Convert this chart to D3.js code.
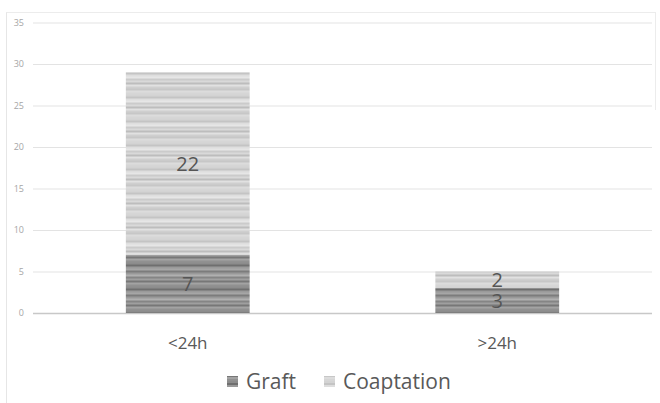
<!DOCTYPE html>
<html>
<head>
<meta charset="utf-8">
<script src="https://cdn.jsdelivr.net/npm/d3@7"></script>
<style>
  body { margin: 0; background: #fff; }
  text { font-family: "Open Sans", "Noto Sans", sans-serif; }
</style>
</head>
<body>
<div id="chart"></div>
<script>
// data
const categories = ['<24h', '>24h'];
const seriesNames = ['Graft', 'Coaptation'];
const graftValues = [7, 3];
const coaptationValues = [22, 2];
const yTicks = [0, 5, 10, 15, 20, 25, 30, 35];

// stripe shades for the textured fills
const graftStripes = ['#8c8c8c', '#6f6f6f', '#9a9a9a', '#a6a6a6', '#7c7c7c', '#999999', '#b0b0b0', '#858585', '#9f9f9f', '#777777', '#a3a3a3', '#919191'];
const coapStripes = ['#d3d3d3', '#c4c4c4', '#dedede', '#e6e6e6', '#cbcbcb', '#d9d9d9', '#bdbdbd', '#e1e1e1', '#cfcfcf', '#c7c7c7', '#dcdcdc', '#d6d6d6'];

const width = 660;
const height = 403;
const margin = {top: 22.5, right: 8, bottom: 90, left: 33};
const innerWidth = width - margin.left - margin.right;
const innerHeight = 313 - margin.top;

const svg = d3.select('#chart').append('svg')
  .attr('width', width)
  .attr('height', height);

// stripe patterns
const defs = svg.append('defs');
function makePattern(id, shades) {
  const p = defs.append('pattern')
    .attr('id', id)
    .attr('patternUnits', 'userSpaceOnUse')
    .attr('width', 8)
    .attr('height', shades.length * 2);
  shades.forEach((c, i) => {
    p.append('rect').attr('x', 0).attr('y', i * 2).attr('width', 8).attr('height', 2).attr('fill', c);
  });
}
makePattern('graftPat', graftStripes);
makePattern('coapPat', coapStripes);
const fills = ['url(#graftPat)', 'url(#coapPat)'];

// chart frame
svg.append('line').attr('x1', 6.5).attr('x2', 6.5).attr('y1', 12).attr('y2', height).attr('stroke', '#e6e6e6');
svg.append('line').attr('x1', 6.5).attr('x2', 655.5).attr('y1', 12.5).attr('y2', 12.5).attr('stroke', '#ececec');
svg.append('line').attr('x1', 655.5).attr('x2', 655.5).attr('y1', 12).attr('y2', 110).attr('stroke', '#ececec');

const g = svg.append('g').attr('transform', `translate(${margin.left},${margin.top})`);

const xScale = d3.scaleBand()
  .domain(categories)
  .range([0, innerWidth])
  .paddingInner(0.6)
  .paddingOuter(0.3);

const yScale = d3.scaleLinear()
  .domain([0, 35])
  .range([innerHeight, 0]);

// y axis with gridlines
const yAxis = g.append('g')
  .call(d3.axisLeft(yScale).tickValues(yTicks).tickSize(-innerWidth).tickPadding(9))
  .call(a => a.select('.domain').remove())
  .call(a => a.selectAll('.tick line').attr('stroke', '#e3e3e3'))
  .call(a => a.selectAll('.tick text').attr('fill', '#a6a6a6').style('font-size', '9px'));
yAxis.selectAll('.tick').filter(d => d === 0).select('line').attr('stroke', '#c8c8c8').attr('stroke-width', 1.5);

// stacked data
const table = categories.map((c, i) => ({cat: c, Graft: graftValues[i], Coaptation: coaptationValues[i]}));
const stacked = d3.stack().keys(seriesNames)(table);

const layers = g.selectAll('.layer')
  .data(stacked)
  .enter().append('g')
  .attr('class', 'layer')
  .attr('fill', (d, i) => fills[i]);

layers.selectAll('rect')
  .data(d => d)
  .enter().append('rect')
  .attr('x', d => xScale(d.data.cat))
  .attr('y', d => yScale(d[1]))
  .attr('width', xScale.bandwidth())
  .attr('height', d => yScale(d[0]) - yScale(d[1]));

// value labels
layers.selectAll('text')
  .data(d => d)
  .enter().append('text')
  .attr('x', d => xScale(d.data.cat) + xScale.bandwidth() / 2)
  .attr('y', d => (yScale(d[0]) + yScale(d[1])) / 2)
  .attr('dy', '0.36em')
  .attr('text-anchor', 'middle')
  .attr('fill', '#555555')
  .style('font-size', '20px')
  .text(d => d[1] - d[0]);

// x axis labels
g.append('g')
  .attr('transform', `translate(0,${innerHeight})`)
  .call(d3.axisBottom(xScale).tickSize(0).tickPadding(24))
  .call(a => a.select('.domain').remove())
  .call(a => a.selectAll('.tick text').attr('fill', '#595959').style('font-size', '17px'));

// legend
const legendItems = [
  {name: seriesNames[0], fill: fills[0], x: 227},
  {name: seriesNames[1], fill: fills[1], x: 324}
];
const legend = svg.append('g').attr('transform', 'translate(0,381)');
legendItems.forEach(it => {
  legend.append('rect')
    .attr('x', it.x).attr('y', -5).attr('width', 11).attr('height', 11)
    .attr('fill', it.fill);
  legend.append('text')
    .attr('x', it.x + 19).attr('y', 0)
    .attr('dy', '0.36em')
    .attr('fill', '#595959')
    .style('font-size', '21px')
    .text(it.name);
});
</script>
</body>
</html>
